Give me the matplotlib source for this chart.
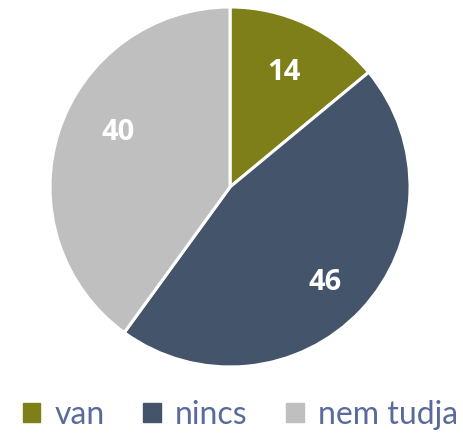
import matplotlib
matplotlib.use("Agg")
import numpy as np
import matplotlib.pyplot as plt
import matplotlib.patches as mpatches

labels = ["van", "nincs", "nem tudja"]
values = [14, 46, 40]
colors = ["#7F7F19", "#44546A", "#BFBFBF"]

plt.rcParams['font.family'] = ['Lato', 'DejaVu Sans']

fig = plt.figure(figsize=(4.64, 4.36), dpi=100)
ax = fig.add_axes([0.1078, 0.1583, 0.7759, 0.8257])

wedges, texts, autotexts = ax.pie(values, colors=colors, startangle=90, counterclock=False,
                                  autopct=lambda p: "%d" % round(p), pctdistance=0.7, radius=1,
                                  wedgeprops=dict(edgecolor="white", linewidth=2.2))
# nudge labels roughly where the original put them
dist = [0.70, 0.75, 0.69]
dang = [0, -2, -8]
for w, t, d, da in zip(wedges, autotexts, dist, dang):
    ang = np.deg2rad((w.theta1 + w.theta2) / 2 + da)
    t.set_position((d * np.cos(ang), d * np.sin(ang)))
    t.set_color("white")
    t.set_fontsize(21)
    t.set_fontweight("bold")
    t.set_family(["Open Sans", "DejaVu Sans"])
ax.set_xlim(-1, 1)
ax.set_ylim(-1, 1)
ax.set_aspect("equal")

handles = [mpatches.Patch(color=c, label=l) for c, l in zip(colors, labels)]
leg = fig.legend(handles=handles, loc="center", bbox_to_anchor=(0.518, 0.048), ncol=3,
                 frameon=False, fontsize=23, handlelength=0.55, handleheight=0.55,
                 handletextpad=0.45, columnspacing=1.2)
for t in leg.get_texts():
    t.set_color("#5A6B9B")

fig.savefig("out.png", dpi=100)
